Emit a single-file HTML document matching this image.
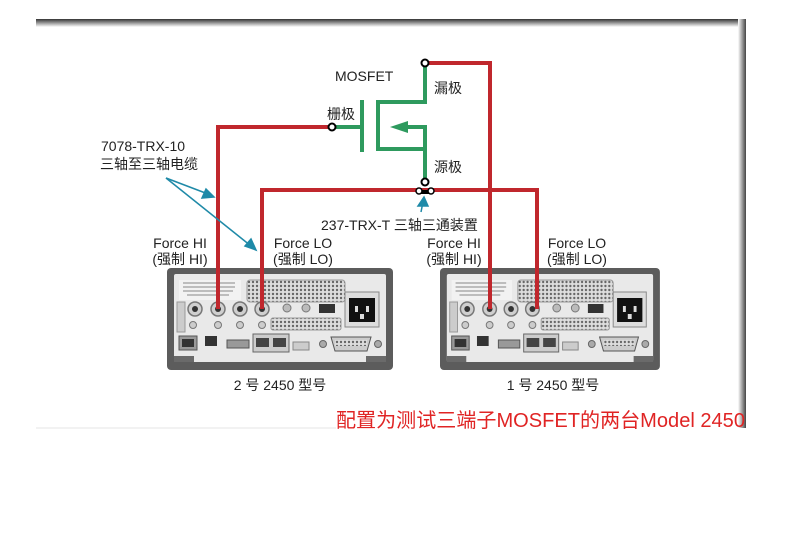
<!DOCTYPE html>
<html><head><meta charset="utf-8"><style>
body{margin:0;background:#fff;width:785px;height:530px;overflow:hidden;font-family:"Liberation Sans","Noto Sans CJK SC",sans-serif}
</style></head><body>
<svg width="785" height="530" viewBox="0 0 785 530" xmlns="http://www.w3.org/2000/svg" font-family="Liberation Sans, Noto Sans CJK SC, sans-serif">
<defs>
<linearGradient id="tg" x1="0" y1="0" x2="0" y2="1"><stop offset="0" stop-color="#333"/><stop offset="1" stop-color="#fff"/></linearGradient>
<linearGradient id="rg" x1="0" y1="0" x2="1" y2="0"><stop offset="0" stop-color="#fff"/><stop offset="1" stop-color="#444"/></linearGradient>
<pattern id="dots" width="4" height="4" patternUnits="userSpaceOnUse"><rect width="4" height="4" fill="#ddd"/><circle cx="2" cy="2" r="1.2" fill="#666"/></pattern>
<g id="inst">
<rect x="0" y="0" width="226" height="102" rx="4" fill="#5c5c5c"/>
<rect x="7" y="6" width="212" height="88" rx="2" fill="#e9e9e9"/>
<rect x="7" y="88" width="20" height="6" fill="#6a6a6a"/><rect x="199" y="88" width="20" height="6" fill="#6a6a6a"/>
<rect x="12" y="12" width="62" height="20" fill="#f2f2f2"/>
<g stroke="#888" stroke-width="1"><line x1="16" y1="15" x2="68" y2="15"/><line x1="16" y1="19" x2="68" y2="19"/><line x1="16" y1="23" x2="66" y2="23"/><line x1="20" y1="27" x2="62" y2="27"/></g>
<rect x="80" y="12" width="98" height="22" rx="3" fill="url(#dots)" stroke="#999"/>
<rect x="10" y="34" width="8" height="30" fill="#ccc" stroke="#999"/>
<g fill="#cfcfcf" stroke="#777" stroke-width="1.5"><circle cx="28" cy="41" r="7"/><circle cx="51" cy="41" r="7"/><circle cx="73" cy="41" r="7"/><circle cx="95" cy="41" r="7"/></g>
<g fill="#333"><circle cx="28" cy="41" r="3"/><circle cx="51" cy="41" r="3"/><circle cx="73" cy="41" r="3"/><circle cx="95" cy="41" r="3"/></g>
<g fill="#bbb" stroke="#777"><circle cx="120" cy="40" r="4"/><circle cx="139" cy="40" r="4"/></g>
<g fill="#ccc" stroke="#777"><circle cx="26" cy="57" r="3.5"/><circle cx="51" cy="57" r="3.5"/><circle cx="73" cy="57" r="3.5"/><circle cx="95" cy="57" r="3.5"/></g>
<rect x="104" y="50" width="70" height="12" rx="2" fill="url(#dots)" stroke="#999"/>
<rect x="152" y="36" width="16" height="9" fill="#333"/>
<rect x="178" y="24" width="34" height="35" fill="#ddd" stroke="#888"/>
<rect x="182" y="30" width="26" height="24" fill="#111"/>
<g fill="#ddd"><rect x="188" y="38" width="3" height="6"/><rect x="199" y="38" width="3" height="6"/><rect x="193" y="46" width="4" height="5"/></g>
<rect x="12" y="68" width="18" height="14" fill="#999" stroke="#555"/><rect x="15" y="71" width="12" height="8" fill="#333"/>
<rect x="38" y="68" width="12" height="10" fill="#333"/>
<rect x="60" y="72" width="22" height="8" fill="#999" stroke="#555"/>
<rect x="86" y="66" width="36" height="18" fill="#ccc" stroke="#666"/><rect x="89" y="70" width="13" height="9" fill="#444"/><rect x="106" y="70" width="13" height="9" fill="#444"/>
<rect x="126" y="74" width="16" height="8" fill="#ccc" stroke="#888"/>
<circle cx="156" cy="76" r="3.5" fill="#aaa" stroke="#666"/>
<path d="M164 69 h40 l-4 14 h-32z" fill="#ccc" stroke="#555"/><rect x="168" y="72" width="32" height="6" fill="url(#dots)"/>
<circle cx="211" cy="76" r="3.5" fill="#aaa" stroke="#666"/>
</g>
</defs>
<rect x="36" y="19" width="710" height="409" fill="#fff"/>
<rect x="36" y="19" width="710" height="8" fill="url(#tg)"/>
<rect x="738" y="19" width="8" height="409" fill="url(#rg)"/>
<line x1="36" y1="428" x2="336" y2="428" stroke="#e4e4e4"/>

<use href="#inst" x="167" y="268"/>
<g transform="translate(440,268) scale(0.973,1)"><use href="#inst"/></g>

<g fill="none" stroke="#c0272d" stroke-width="4">
<polyline points="218,309 218,127 332,127"/>
<polyline points="425,63 490,63 490,309"/>
<polyline points="262,309 262,190 537,190 537,309"/>
</g>
<g fill="none" stroke="#2e9a5e" stroke-width="4">
<line x1="336" y1="127" x2="362" y2="127"/>
<line x1="362" y1="100" x2="362" y2="152"/>
<polyline points="425,63 425,102 378,102 378,149 425,149 425,181"/>
<polyline points="425,149 425,127 404,127"/>
</g>
<polygon points="390,127 408,121 408,133" fill="#2e9a5e"/>
<g fill="#fff" stroke="#000" stroke-width="2"><circle cx="425" cy="63" r="3.5"/><circle cx="332" cy="127" r="3.5"/><circle cx="425" cy="182" r="3.5"/></g>
<path d="M419 190 h12 v4 h-12z" fill="#000"/><g fill="#fff" stroke="#000" stroke-width="1.5"><circle cx="419" cy="191" r="3"/><circle cx="431" cy="191" r="3"/></g>

<g font-size="14" fill="#222">
<text x="335" y="81">MOSFET</text>
<text x="434" y="93">漏极</text>
<text x="327" y="119">栅极</text>
<text x="434" y="172">源极</text>
<text x="101" y="151">7078-TRX-10</text>
<text x="100" y="169">三轴至三轴电缆</text>
<text x="321" y="230">237-TRX-T 三轴三通装置</text>
<text x="180" y="248" text-anchor="middle">Force HI</text>
<text x="180" y="264" text-anchor="middle">(强制 HI)</text>
<text x="303" y="248" text-anchor="middle">Force LO</text>
<text x="303" y="264" text-anchor="middle">(强制 LO)</text>
<text x="454" y="248" text-anchor="middle">Force HI</text>
<text x="454" y="264" text-anchor="middle">(强制 HI)</text>
<text x="577" y="248" text-anchor="middle">Force LO</text>
<text x="577" y="264" text-anchor="middle">(强制 LO)</text>
<text x="280" y="390" text-anchor="middle">2 号 2450 型号</text>
<text x="553" y="390" text-anchor="middle">1 号 2450 型号</text>
</g>
<g stroke="#1f8aa8" stroke-width="1.5" fill="#1f8aa8">
<line x1="166" y1="178" x2="208" y2="194"/><polygon points="214,197 202,198 206,189"/>
<line x1="166" y1="178" x2="251" y2="246"/><polygon points="256,250 245,246 251,239"/>
<line x1="421" y1="212" x2="423" y2="202"/><polygon points="424,197 418,206 428,206"/>
</g>
<text x="336" y="427" font-size="20" fill="#e02424" textLength="409" lengthAdjust="spacingAndGlyphs">配置为测试三端子MOSFET的两台Model 2450</text>
</svg>
</body></html>
